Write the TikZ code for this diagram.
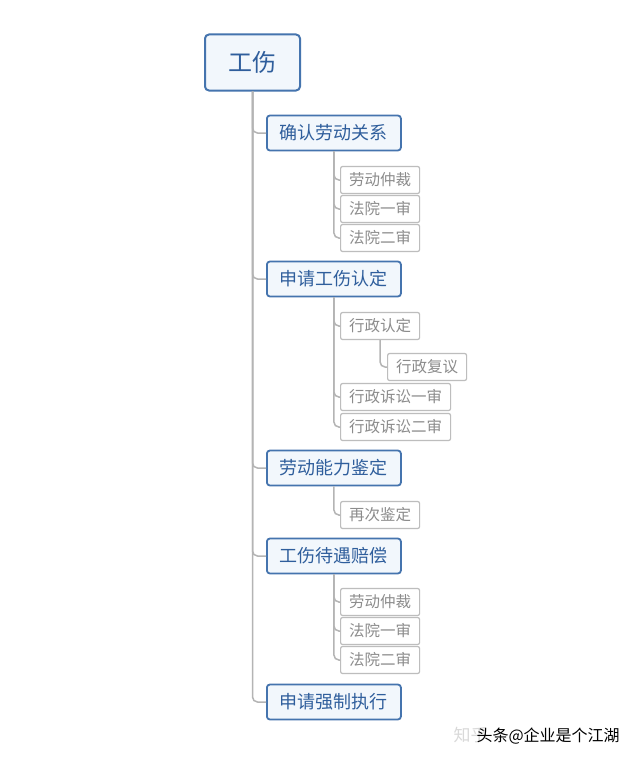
\documentclass[tikz,border=0pt]{standalone}
\usepackage{fontspec}
\setmainfont{Noto Sans CJK SC}
\definecolor{boxblue}{HTML}{4574AE}
\definecolor{textblue}{HTML}{2F5E9C}
\definecolor{paleblue}{HTML}{F2F7FC}
\definecolor{subgray}{HTML}{BDBDBD}
\definecolor{subtext}{HTML}{8C8C8C}
\definecolor{linegray}{HTML}{B4B4B4}

\begin{document}
\begin{tikzpicture}[x=1pt,y=-1pt,
  rootbox/.style={draw=boxblue,line width=2pt,rounded corners=4pt,fill=paleblue,text=textblue,
    minimum width=95pt,minimum height=56pt,font=\fontsize{24}{28}\selectfont},
  stagebox/.style={draw=boxblue,line width=1.8pt,rounded corners=3pt,fill=paleblue,text=textblue,
    anchor=west,inner xsep=13pt,minimum height=35pt,font=\fontsize{18}{22}\selectfont},
  subbox/.style={draw=subgray,line width=1.2pt,rounded corners=2pt,fill=white,text=subtext,
    anchor=west,inner xsep=8.5pt,minimum height=27pt,font=\fontsize{15.5}{18}\selectfont},
  link/.style={draw=linegray,line width=1.5pt,rounded corners=5pt}]
\useasboundingbox[fill=white] (0,0) rectangle (640,760);

\node[rootbox] (injury) at (252.5,62.5) {工伤};

\node[stagebox] (relation) at (266,133) {确认劳动关系};
\node[stagebox] (identify) at (266,279) {申请工伤认定};
\node[stagebox] (ability) at (266,468) {劳动能力鉴定};
\node[stagebox] (compensate) at (266,556) {工伤待遇赔偿};
\node[stagebox] (enforce) at (266,702) {申请强制执行};

\node[subbox] (relation-arb) at (340,180) {劳动仲裁};
\node[subbox] (relation-first) at (340,209) {法院一审};
\node[subbox] (relation-second) at (340,238) {法院二审};

\node[subbox] (identify-admin) at (340,326) {行政认定};
\node[subbox] (identify-review) at (387,367) {行政复议};
\node[subbox] (identify-first) at (340,397) {行政诉讼一审};
\node[subbox] (identify-second) at (340,427) {行政诉讼二审};

\node[subbox] (ability-again) at (340,515) {再次鉴定};

\node[subbox] (compensate-arb) at (340,602) {劳动仲裁};
\node[subbox] (compensate-first) at (340,631) {法院一审};
\node[subbox] (compensate-second) at (340,660) {法院二审};

% main trunk
\draw[link] (injury.south) |- (relation.west);
\draw[link] (injury.south) |- (identify.west);
\draw[link] (injury.south) |- (ability.west);
\draw[link] (injury.south) |- (compensate.west);
\draw[link] (injury.south) |- (enforce.west);

% branches
\draw[link] (relation.south) |- (relation-arb.west);
\draw[link] (relation.south) |- (relation-first.west);
\draw[link] (relation.south) |- (relation-second.west);

\draw[link] (identify.south) |- (identify-admin.west);
\draw[link] (identify-admin.south) |- (identify-review.west);
\draw[link] (identify.south) |- (identify-first.west);
\draw[link] (identify.south) |- (identify-second.west);

\draw[link] (ability.south) |- (ability-again.west);

\draw[link] (compensate.south) |- (compensate-arb.west);
\draw[link] (compensate.south) |- (compensate-first.west);
\draw[link] (compensate.south) |- (compensate-second.west);

% watermark
\node[anchor=west,text=black!15,font=\fontsize{17}{20}\selectfont] (zhihu) at (450,735) {知乎};
\node[anchor=west,text=black,font=\fontsize{16}{20}\selectfont] (toutiao) at (473,736) {头条@企业是个江湖};

\end{tikzpicture}
\end{document}
